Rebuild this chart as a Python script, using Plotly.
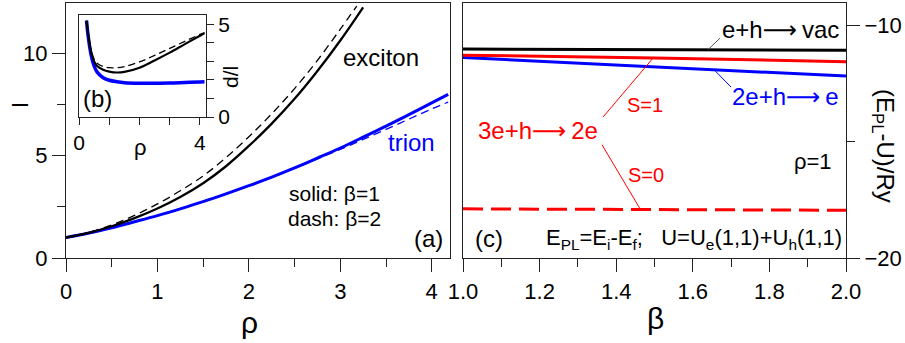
import plotly.graph_objects as go

W, H = 905, 343
FONT = "Liberation Sans, Arial, Helvetica, sans-serif"

# ---------------- panel (a): l vs rho ----------------
rho_exc_b1 = [0, 0.25, 0.5, 0.75, 1.0, 1.25, 1.5, 1.75, 2.0, 2.25, 2.5, 2.75, 3.0, 3.25]
l_exc_b1 = [1.00, 1.23, 1.55, 1.95, 2.42, 2.98, 3.65, 4.48, 5.47, 6.56, 7.77, 9.13, 10.62, 12.24]
rho_exc_b2 = [0, 0.25, 0.5, 0.75, 1.0, 1.25, 1.5, 1.75, 2.0, 2.25, 2.5, 2.75, 3.0, 3.18]
l_exc_b2 = [1.00, 1.25, 1.61, 2.08, 2.64, 3.28, 4.01, 4.90, 5.92, 7.04, 8.27, 9.65, 11.17, 12.30]
rho_tri = [0, 0.25, 0.5, 0.75, 1.0, 1.25, 1.5, 1.75, 2.0, 2.25, 2.5, 2.75, 3.0, 3.25, 3.5, 3.75, 4.0, 4.18]
l_tri_b1 = [1.00, 1.22, 1.48, 1.77, 2.07, 2.40, 2.75, 3.13, 3.53, 3.95, 4.40, 4.88, 5.37, 5.90, 6.44, 7.00, 7.57, 7.99]
l_tri_b2 = [1.00, 1.22, 1.49, 1.78, 2.08, 2.41, 2.76, 3.13, 3.52, 3.93, 4.37, 4.84, 5.30, 5.79, 6.28, 6.78, 7.28, 7.61]

# ---------------- inset (b): d/l vs rho ----------------
rho_in = [0.25, 0.3, 0.4, 0.5, 0.6, 0.8, 1.0, 1.25, 1.5, 2.0, 2.5, 3.0, 3.5, 4.0, 4.15]
dl_exc_b1 = [5.2, 4.5, 3.5, 3.0, 2.75, 2.55, 2.45, 2.40, 2.43, 2.66, 3.05, 3.47, 3.93, 4.38, 4.52]
dl_exc_b2 = [5.2, 4.55, 3.6, 3.12, 2.9, 2.72, 2.66, 2.66, 2.72, 2.97, 3.32, 3.70, 4.08, 4.45, 4.55]
dl_tri_b1 = [5.2, 4.4, 3.35, 2.75, 2.42, 2.12, 1.98, 1.90, 1.85, 1.82, 1.82, 1.83, 1.86, 1.89, 1.90]

# ---------------- panel (c): (E_PL-U)/Ry vs beta ----------------
beta = [1.0, 1.5, 2.0]
E_exciton = [-11.03, -11.05, -11.08]
E_trion = [-11.39, -11.78, -12.19]
E_3e_S1 = [-11.29, -11.41, -11.57]
E_3e_S0 = [-17.89, -17.92, -17.95]

# tick labels
a_xticks = [0, 1, 2, 3, 4]
a_yticks = [0, 5, 10]
b_xticks = [0, 1, 2, 3, 4]
b_xlabels = ["0", "", "", "", "4"]
b_yticks = [0, 1, 2, 3, 4, 5]
b_ylabels = ["0", "", "", "", "", "5"]
c_xticks = [1.0, 1.2, 1.4, 1.6, 1.8, 2.0]
c_yticks = [-10, -20]


def px(x):
    return x / W


def py(y):
    return 1 - y / H


fig = go.Figure()

# panel (a)
fig.add_trace(go.Scatter(x=rho_tri, y=l_tri_b1, mode="lines", line=dict(color="#0000ff", width=3, shape="spline"),
                         xaxis="x", yaxis="y", showlegend=False))
fig.add_trace(go.Scatter(x=rho_tri, y=l_tri_b2, mode="lines", line=dict(color="#0000ff", width=1.3, dash="8px,5px", shape="spline"),
                         xaxis="x", yaxis="y", showlegend=False))
fig.add_trace(go.Scatter(x=rho_exc_b1, y=l_exc_b1, mode="lines", line=dict(color="#000000", width=2.3, shape="spline"),
                         xaxis="x", yaxis="y", showlegend=False))
fig.add_trace(go.Scatter(x=rho_exc_b2, y=l_exc_b2, mode="lines", line=dict(color="#000000", width=1.3, dash="8px,5px", shape="spline"),
                         xaxis="x", yaxis="y", showlegend=False))

# inset (b)
fig.add_trace(go.Scatter(x=rho_in, y=dl_tri_b1, mode="lines", line=dict(color="#0000ff", width=3.5, shape="spline"),
                         xaxis="x3", yaxis="y3", showlegend=False))
fig.add_trace(go.Scatter(x=rho_in, y=dl_exc_b2, mode="lines", line=dict(color="#000000", width=1.3, dash="7px,4px", shape="spline"),
                         xaxis="x3", yaxis="y3", showlegend=False))
fig.add_trace(go.Scatter(x=rho_in, y=dl_exc_b1, mode="lines", line=dict(color="#000000", width=2.2, shape="spline"),
                         xaxis="x3", yaxis="y3", showlegend=False))

# panel (c)
fig.add_trace(go.Scatter(x=beta, y=E_3e_S0, mode="lines", line=dict(color="#ff0000", width=3, dash="20px,8px"),
                         xaxis="x2", yaxis="y2", showlegend=False))
fig.add_trace(go.Scatter(x=beta, y=E_trion, mode="lines", line=dict(color="#0000ff", width=3),
                         xaxis="x2", yaxis="y2", showlegend=False))
fig.add_trace(go.Scatter(x=beta, y=E_3e_S1, mode="lines", line=dict(color="#ff0000", width=3),
                         xaxis="x2", yaxis="y2", showlegend=False))
fig.add_trace(go.Scatter(x=beta, y=E_exciton, mode="lines", line=dict(color="#000000", width=3),
                         xaxis="x2", yaxis="y2", showlegend=False))

AX = dict(showline=True, linecolor="#222", linewidth=1.2, mirror=True, ticks="outside",
          tickcolor="#222", tickwidth=1.2, showgrid=False, zeroline=False, automargin=False,
          tickfont=dict(family=FONT, size=22, color="#000"))
MINOR = dict(tickcolor="#222", tickwidth=1.2, ticks="outside", ticklen=8)

fig.update_layout(
    template="none",
    width=W, height=H, autosize=False,
    margin=dict(l=0, r=0, t=0, b=0, pad=0),
    paper_bgcolor="white", plot_bgcolor="white",
    font=dict(family=FONT, color="#000"),
    xaxis=dict(**AX, domain=[px(66), px(450)], range=[0, 4.2], tickvals=a_xticks, ticklen=13,
               minor=dict(dtick=0.5, **MINOR), anchor="y"),
    yaxis=dict(**AX, domain=[py(258), py(3)], range=[0, 12.45], tickvals=a_yticks, ticklen=13,
               minor=dict(dtick=2.5, **MINOR), anchor="x"),
    xaxis2=dict(**AX, domain=[px(463), px(846)], range=[1.0, 2.0], tickvals=c_xticks, tickformat=".1f", ticklen=13,
                minor=dict(dtick=0.1, **MINOR), anchor="y2"),
    yaxis2=dict(**AX, domain=[py(258), py(3)], range=[-20, -9.05], tickvals=c_yticks, ticklen=13, side="right",
                minor=dict(dtick=5, **MINOR), anchor="x2"),
    xaxis3=dict(**AX, domain=[px(79), px(206)], range=[0, 4.2], tickvals=b_xticks, ticktext=b_xlabels, ticklen=7,
                anchor="y3"),
    yaxis3=dict(**AX, domain=[py(117), py(15)], range=[0, 5.5], tickvals=b_yticks, ticktext=b_ylabels, ticklen=7,
                side="right", anchor="x3"),
)
fig.update_layout(xaxis3_tickfont_size=21, yaxis3_tickfont_size=21)


def txt(x, y, s, size=24, color="#000", angle=0):
    fig.add_annotation(x=px(x), y=py(y), xref="paper", yref="paper", text=s, showarrow=False,
                       font=dict(family=FONT, size=size, color=color), textangle=angle,
                       xanchor="center", yanchor="middle")


ARROW = '<span style="font-family:DejaVu Sans">\u27f6</span>'

# axis titles
txt(249, 322, "ρ", size=30)
txt(655, 318, "β", size=30)
txt(19.5, 105, "l", size=22, angle=-90)
txt(883, 146, "(E<sub>PL</sub>-U)/Ry", size=24, angle=90)
txt(140, 147, "ρ", size=22)
txt(230, 77, "d/l", size=21, angle=-90)

# panel (a) labels
txt(381, 58, "exciton", size=24)
txt(411, 142, "trion", size=24, color="#0000ff")
txt(334, 193, "solid: β=1", size=21)
txt(334, 218, "dash: β=2", size=21)
txt(428, 238, "(a)", size=24)
txt(97, 98, "(b)", size=24)

# panel (c) labels
txt(780, 30, "e+h" + ARROW + "\u2009vac", size=24)
txt(785, 97, "2e+h" + ARROW + "\u2009e", size=24, color="#0000ff")
txt(538, 131, "3e+h" + ARROW + "\u20092e", size=24, color="#ff0000")
txt(645, 105, "S=1", size=20, color="#ff0000")
txt(646, 175, "S=0", size=20, color="#ff0000")
txt(813, 161, "ρ=1", size=22)
txt(489, 238, "(c)", size=24)
txt(694, 239, "E<sub>PL</sub>=E<sub>i</sub>-E<sub>f</sub>;\u00a0\u00a0\u00a0U=U<sub>e</sub>(1,1)+U<sub>h</sub>(1,1)", size=22)

# leader lines (panel c data coordinates)
leaders = [
    (1.640, -11.05, 1.671, -10.56, "#555555"),
    (1.655, -11.91, 1.700, -12.66, "#0000ff"),
    (1.496, -11.42, 1.366, -13.94, "#ff0000"),
    (1.462, -17.88, 1.363, -15.14, "#ff0000"),
]
for x0, y0, x1, y1, c in leaders:
    fig.add_shape(type="line", xref="x2", yref="y2", x0=x0, y0=y0, x1=x1, y1=y1,
                  line=dict(color=c, width=1))

fig.write_html("out.html", config={"displayModeBar": False},
               post_script="document.body.style.margin='0px';")
